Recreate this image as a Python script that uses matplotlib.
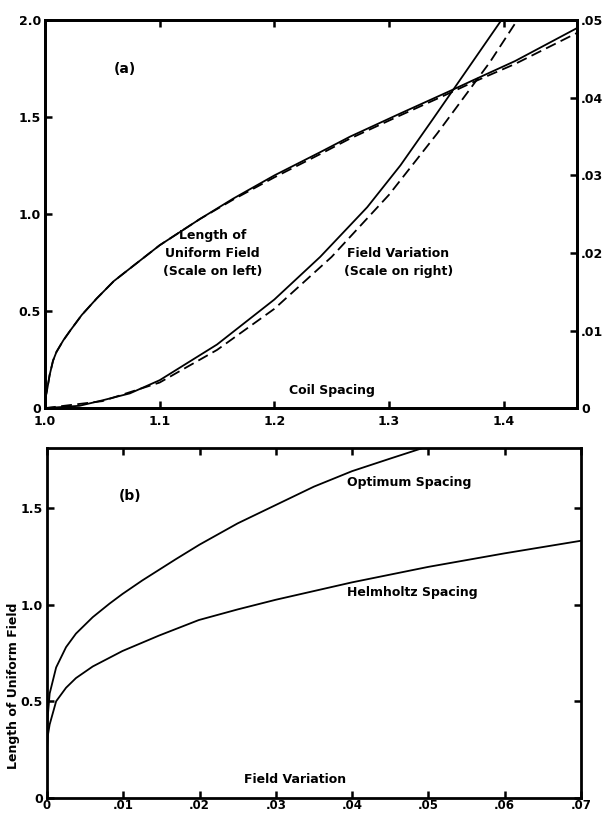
import matplotlib.pyplot as plt

# panel (a): coil spacing vs length of uniform field (left) and field variation (right)
spacing_len = [1.0, 1.002, 1.004, 1.007, 1.01, 1.016, 1.022, 1.032, 1.045, 1.06,
               1.074, 1.1, 1.135, 1.164, 1.2, 1.24, 1.266, 1.31, 1.353, 1.373,
               1.41, 1.464]
length_solid = [0.04, 0.10, 0.17, 0.245, 0.29, 0.35, 0.40, 0.48, 0.565, 0.655,
                0.72, 0.84, 0.975, 1.08, 1.20, 1.32, 1.40, 1.52, 1.635, 1.69,
                1.79, 1.96]
length_dashed = [0.04, 0.10, 0.17, 0.245, 0.29, 0.35, 0.40, 0.48, 0.565, 0.655,
                 0.72, 0.84, 0.975, 1.075, 1.19, 1.31, 1.39, 1.51, 1.625, 1.68,
                 1.775, 1.935]

spacing_fv = [1.0, 1.03, 1.05, 1.074, 1.1, 1.15, 1.2, 1.24, 1.281, 1.31,
              1.338, 1.368, 1.397, 1.404]
fv_solid = [0.0, 0.0003, 0.0010, 0.0019, 0.0036, 0.0082, 0.0140, 0.0195,
            0.0259, 0.0313, 0.0372, 0.0436, 0.0498, 0.0513]
spacing_fv_d = [1.0, 1.05, 1.1, 1.15, 1.2, 1.25, 1.3, 1.342, 1.388, 1.414]
fv_dashed = [0.0, 0.0009, 0.0033, 0.0075, 0.0128, 0.0195, 0.0275, 0.0354,
             0.0446, 0.0505]

# panel (b): field variation vs length of uniform field
fv_opt = [0, 0.0001, 0.00035, 0.0012, 0.0025, 0.0038, 0.006, 0.0082, 0.0099,
          0.0125, 0.0169, 0.02, 0.025, 0.03, 0.035, 0.04, 0.045, 0.0493]
optimum = [0.25, 0.42, 0.54, 0.675, 0.78, 0.85, 0.935, 1.005, 1.055, 1.125,
           1.235, 1.31, 1.42, 1.515, 1.61, 1.69, 1.755, 1.81]
fv_helm = [0, 0.0001, 0.00035, 0.0012, 0.0025, 0.0038, 0.006, 0.0099, 0.0147,
           0.0199, 0.025, 0.03, 0.04, 0.05, 0.06, 0.07]
helmholtz = [0.25, 0.32, 0.38, 0.50, 0.57, 0.62, 0.68, 0.76, 0.84, 0.92,
             0.975, 1.025, 1.115, 1.195, 1.265, 1.33]

plt.rcParams['font.family'] = 'DejaVu Sans'
plt.rcParams['font.weight'] = 'bold'
fs = 9
lw = 1.3
dash = (0, (6, 3))

fig = plt.figure(figsize=(6.15, 8.13), dpi=100)

def style(ax):
    for s in ax.spines.values():
        s.set_linewidth(2)
    ax.tick_params(direction='in', length=5, width=1.8, labelsize=fs, pad=3)

# ---- panel (a)
ax1 = fig.add_axes([0.0732, 0.498, 0.865, 0.477])
ax1.plot(spacing_len, length_solid, color='black', lw=lw)
ax1.plot(spacing_len, length_dashed, color='black', lw=lw, linestyle=dash)
ax1.set_xlim(1.0, 1.464)
ax1.set_ylim(0, 2.0)
ax1.set_xticks([1.0, 1.1, 1.2, 1.3, 1.4])
ax1.set_xticklabels(['1.0', '1.1', '1.2', '1.3', '1.4'])
ax1.set_yticks([0, 0.5, 1.0, 1.5, 2.0])
ax1.set_yticklabels(['0', '0.5', '1.0', '1.5', '2.0'])
ax1.tick_params(top=True)
style(ax1)
ax1.tick_params(axis='x', pad=5)

ax1r = ax1.twinx()
ax1r.plot(spacing_fv, fv_solid, color='black', lw=lw)
ax1r.plot(spacing_fv_d, fv_dashed, color='black', lw=lw, linestyle=dash)
ax1r.set_ylim(0, 0.05)
ax1r.set_yticks([0, 0.01, 0.02, 0.03, 0.04, 0.05])
ax1r.set_yticklabels(['0', '.01', '.02', '.03', '.04', '.05'])
style(ax1r)

ax1.text(1.07, 1.75, '(a)', fontsize=fs + 1, ha='center', va='center')
ax1.text(1.146, 0.80, 'Length of\nUniform Field\n(Scale on left)',
         fontsize=fs, ha='center', va='center', linespacing=1.5)
ax1.text(1.308, 0.75, 'Field Variation\n(Scale on right)',
         fontsize=fs, ha='center', va='center', linespacing=1.5)
ax1.text(1.250, 0.09, 'Coil Spacing', fontsize=fs, ha='center', va='center')

# ---- panel (b)
ax2 = fig.add_axes([0.0764, 0.0185, 0.868, 0.4305])
ax2.plot(fv_opt, optimum, color='black', lw=lw)
ax2.plot(fv_helm, helmholtz, color='black', lw=lw)
ax2.set_xlim(0, 0.07)
ax2.set_ylim(0, 1.81)
ax2.set_xticks([0, 0.01, 0.02, 0.03, 0.04, 0.05, 0.06, 0.07])
ax2.set_xticklabels(['0', '.01', '.02', '.03', '.04', '.05', '.06', '.07'])
ax2.set_yticks([0, 0.5, 1.0, 1.5])
ax2.set_yticklabels(['0', '0.5', '1.0', '1.5'])
ax2.tick_params(top=True, right=True)
style(ax2)
ax2.tick_params(axis='x', pad=1, labelsize=8.5)
ax2.set_ylabel('Length of Uniform Field', fontsize=fs, fontweight='bold')
ax2.yaxis.set_label_coords(-0.05, 0.32)

ax2.text(0.0109, 1.56, '(b)', fontsize=fs + 1, ha='center', va='center')
ax2.text(0.0393, 1.63, 'Optimum Spacing', fontsize=fs, ha='left', va='center')
ax2.text(0.0393, 1.06, 'Helmholtz Spacing', fontsize=fs, ha='left', va='center')
ax2.text(0.0325, 0.095, 'Field Variation', fontsize=fs, ha='center', va='center')

fig.savefig('out.png', dpi=100)
